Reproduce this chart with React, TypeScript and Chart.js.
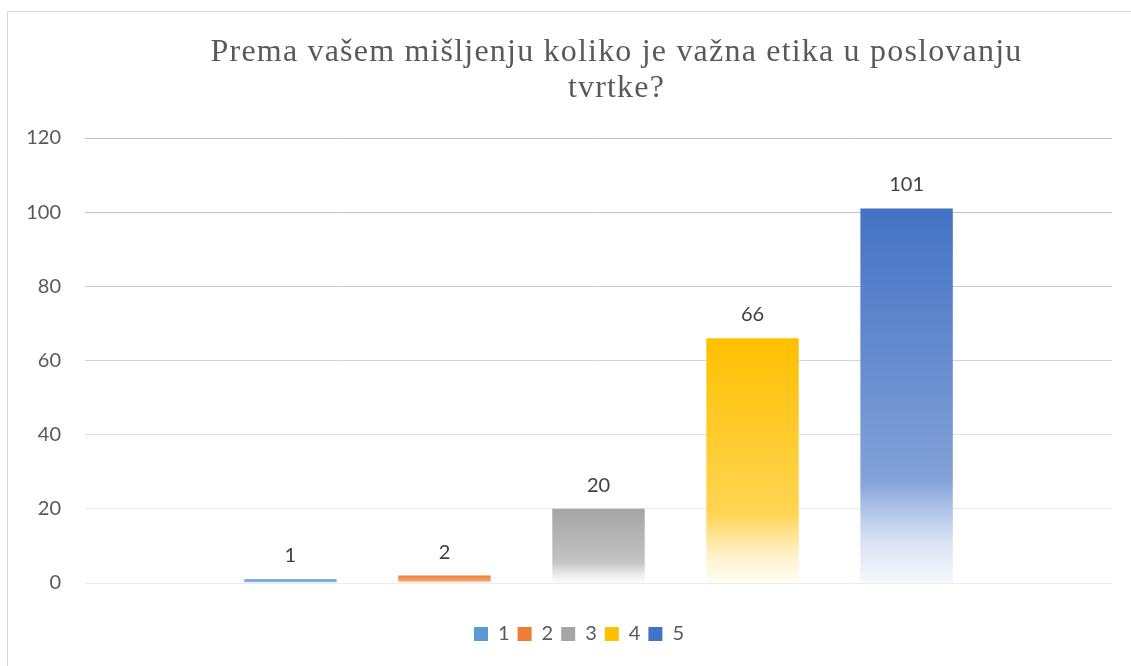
import React, { useEffect, useRef } from "react";
import { Chart, registerables } from "chart.js";

Chart.register(...registerables);

const titleLines = ["Prema vašem mišljenju koliko je važna etika u poslovanju", "tvrtke?"];
const categories = [""];
const seriesLabels = ["1", "2", "3", "4", "5"];
const seriesValues = [1, 2, 20, 66, 101];
const seriesColors = ["#5B9BD5", "#ED7D31", "#A5A5A5", "#FFC000", "#4472C4"];
const yMin = 0;
const yMax = 120;
const yStep = 20;
const gridColors: Record<number, string> = {
  120: "#bfbfbf",
  100: "#c2c2c2",
  80: "#cacaca",
  60: "#d5d5d5",
  40: "#e1e1e1",
  20: "#e9e9e9",
  0: "#ececec",
};
const gradientStops: [number, number][] = [
  [0, 0],
  [0.72, 0.33],
  [0.8, 0.56],
  [0.89, 0.8],
  [1, 0.95],
];

function mixWhite(hex: string, t: number): string {
  const n = parseInt(hex.slice(1), 16);
  const r = (n >> 16) & 255;
  const g = (n >> 8) & 255;
  const b = n & 255;
  const m = (c: number) => Math.round(c + (255 - c) * t);
  return `rgb(${m(r)},${m(g)},${m(b)})`;
}

function barFill(color: string) {
  return (ctx: any) => {
    if (ctx.type !== "data") return color;
    const chart = ctx.chart;
    const y = chart.scales && chart.scales.y;
    if (!y || !chart.chartArea) return color;
    const top = y.getPixelForValue(ctx.raw);
    const bottom = y.getPixelForValue(0);
    if (!isFinite(top) || !isFinite(bottom) || bottom - top < 1) return color;
    const g = chart.ctx.createLinearGradient(0, top, 0, bottom);
    gradientStops.forEach(([p, t]) => g.addColorStop(p, mixWhite(color, t)));
    return g;
  };
}

const titlePlugin = {
  id: "serifTitle",
  afterDraw(chart: any) {
    const ctx = chart.ctx;
    ctx.save();
    ctx.font = "32px 'Liberation Serif'";
    ctx.fillStyle = "#595959";
    ctx.textAlign = "center";
    ctx.textBaseline = "alphabetic";
    try {
      (ctx as any).letterSpacing = "1.2px";
    } catch (e) {}
    const cx = (chart.chartArea.left + chart.chartArea.right) / 2 + 18;
    ctx.fillText(titleLines[0], cx, 49);
    ctx.fillText(titleLines[1], cx, 85);
    ctx.restore();
  },
};

const legendShiftPlugin = {
  id: "legendShift",
  afterLayout(chart: any) {
    if (chart.legend) chart.legend.left += 20;
  },
};

const valueLabelPlugin = {
  id: "valueLabels",
  afterDatasetsDraw(chart: any) {
    const ctx = chart.ctx;
    ctx.save();
    ctx.font = "20px Lato";
    ctx.fillStyle = "#404040";
    ctx.textAlign = "center";
    ctx.textBaseline = "alphabetic";
    chart.data.datasets.forEach((ds: any, i: number) => {
      const meta = chart.getDatasetMeta(i);
      meta.data.forEach((el: any, j: number) => {
        ctx.fillText(String(ds.data[j]), el.x, el.y - 17);
      });
    });
    ctx.restore();
  },
};

export default function App() {
  const ref = useRef<HTMLCanvasElement | null>(null);

  useEffect(() => {
    if (!ref.current) return;
    const chart = new Chart(ref.current, {
      type: "bar",
      data: {
        labels: categories,
        datasets: seriesLabels.map((label, i) => ({
          label,
          data: [seriesValues[i]],
          backgroundColor: barFill(seriesColors[i]),
          borderWidth: 0,
          categoryPercentage: 0.75,
          barPercentage: 0.6,
        })),
      },
      options: {
        animation: false,
        responsive: false,
        maintainAspectRatio: false,
        devicePixelRatio: 1,
        layout: { padding: { left: 18, right: 39, top: 126, bottom: 12 } },
        plugins: {
          title: { display: false },
          tooltip: { enabled: false },
          legend: {
            position: "bottom",
            labels: {
              boxWidth: 14,
              boxHeight: 14,
              padding: 8,
              color: "#595959",
              font: { family: "Lato", size: 20 },
              generateLabels: (chart: any) =>
                chart.data.datasets.map((ds: any, i: number) => ({
                  text: ds.label,
                  fillStyle: seriesColors[i],
                  strokeStyle: seriesColors[i],
                  lineWidth: 0,
                  fontColor: "#595959",
                  hidden: !chart.isDatasetVisible(i),
                  datasetIndex: i,
                })),
            },
          },
        },
        scales: {
          x: {
            display: true,
            ticks: { display: false },
            grid: { display: false },
            border: { display: false },
            afterFit: (s: any) => {
              s.height = 33;
            },
          },
          y: {
            min: yMin,
            max: yMax,
            ticks: {
              stepSize: yStep,
              padding: 24,
              color: "#595959",
              font: { family: "Lato", size: 20 },
            },
            grid: {
              drawTicks: false,
              lineWidth: 1,
              color: (c: any) => gridColors[c.tick ? c.tick.value : 0] || "#d9d9d9",
            },
            border: { display: false },
            afterFit: (s: any) => {
              s.width = 59;
            },
          },
        },
      },
      plugins: [titlePlugin, valueLabelPlugin, legendShiftPlugin],
    });
    return () => chart.destroy();
  }, []);

  return (
    <div
      style={{
        position: "absolute",
        left: 7,
        top: 11,
        width: 1124,
        height: 655,
        borderLeft: "1px solid #d9d9d9",
        borderTop: "1px solid #d9d9d9",
        overflow: "hidden",
        background: "#fff",
      }}
    >
      <canvas ref={ref} width={1143} height={654} style={{ display: "block", width: 1143, height: 654 }} />
    </div>
  );
}
